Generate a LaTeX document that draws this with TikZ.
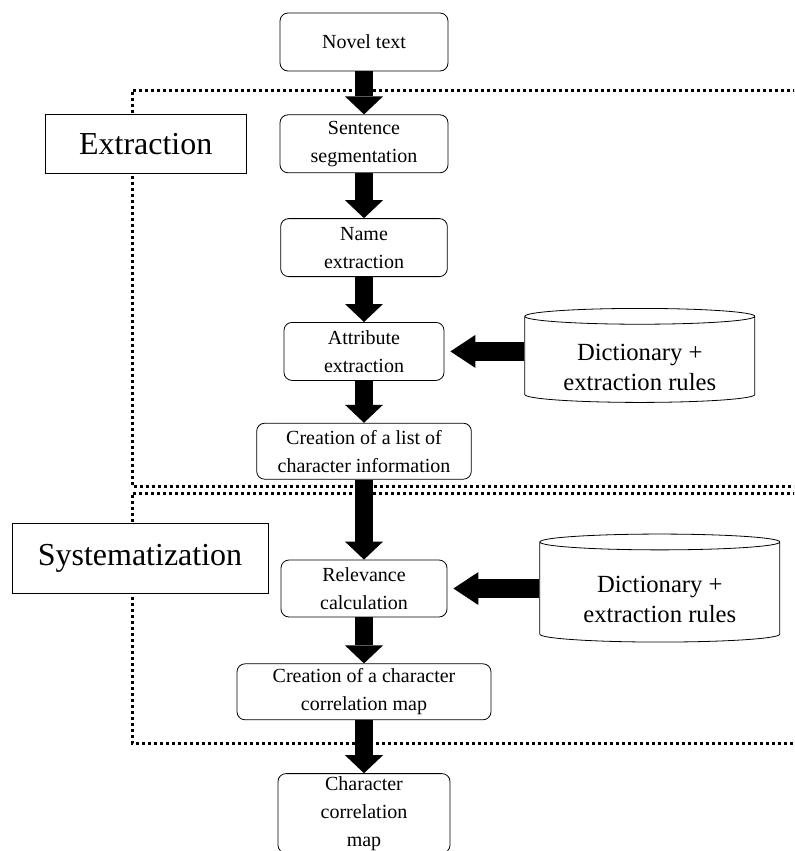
\documentclass[tikz,border=0pt]{standalone}
\usepackage{fontspec}
\setmainfont{Liberation Serif}
\usetikzlibrary{
    arrows.meta,
    positioning,
    shapes.geometric
}

\begin{document}
\begin{tikzpicture}[
    x=0.75pt, y=-0.75pt,
    stepbox/.style={rectangle, rounded corners=6pt, draw, fill=white,
                    line width=0.6pt, minimum height=43.5pt, inner sep=2pt,
                    align=center, font=\fontsize{15}{21}\selectfont},
    phase/.style={rectangle, draw, fill=white, line width=0.6pt,
                  inner sep=2pt, font=\fontsize{24}{28}\selectfont},
    db/.style={cylinder, shape border rotate=90, aspect=0.1, draw,
               fill=white, line width=0.6pt, inner sep=2pt, align=center,
               font=\fontsize{18.5}{22.5}\selectfont},
    flow/.style={line width=13.5pt,
                 -{Triangle[length=13.5pt, width=28.5pt, line width=0pt]}},
    feed/.style={line width=14.25pt, shorten >=4.5pt,
                 -{Triangle[length=18.75pt, width=24.75pt, line width=0pt]}},
    region/.style={line width=2.25pt, dash pattern=on 2.25pt off 2.25pt}
]
\clip (0,0) rectangle (794,851);

% =========================
% 1) DOTTED PHASE REGIONS
% =========================
\draw[region] (820,90) -| (132,486) -- (820,486);
\draw[region] (820,493) -| (132,743) -- (820,743);

% =========================
% 2) MAIN CHAIN
% =========================
\node[stepbox, minimum width=126pt] (novel) at (364,42) {Novel text};
\node[stepbox, minimum width=126pt, below=32.25pt of novel] (seg)
    {Sentence\\segmentation};
\node[stepbox, minimum width=125pt, below=33.75pt of seg] (name)
    {Name\\extraction};
\node[stepbox, minimum width=120pt, below=33.75pt of name] (attr)
    {Attribute\\extraction};
\node[stepbox, minimum width=161pt, minimum height=42pt,
      below=31.5pt of attr] (list)
    {Creation of a list of\\character information};
\node[stepbox, minimum width=124.5pt, minimum height=42.75pt,
      below=60pt of list] (rel)
    {Relevance\\calculation};
\node[stepbox, minimum width=190.5pt, minimum height=42pt,
      below=34.5pt of rel] (cmap)
    {Creation of a character\\correlation map};
\node[stepbox, minimum width=129pt, below=39.75pt of cmap] (chmap)
    {Character\\correlation\\map};

\draw[flow] (novel) -- (seg);
\draw[flow] (seg) -- (name);
\draw[flow] (name) -- (attr);
\draw[flow] (attr) -- (list);
\draw[flow] (list) -- (rel);
\draw[flow] (rel) -- (cmap);
\draw[flow] (cmap) -- (chmap);

% =========================
% 3) PHASE LABELS
% =========================
\node[phase, minimum width=150.75pt, minimum height=44.25pt,
      left=24.75pt of seg] (ext) {Extraction};
\node[phase, minimum width=192pt, minimum height=52.5pt] (sys)
    at (140,558) {Systematization};

% =========================
% 4) DICTIONARIES
% =========================
\node[db, minimum width=172.5pt, minimum height=70.5pt,
      right=60pt of attr, yshift=-6.75pt] (dicta)
    {\rule{0pt}{23pt}Dictionary +\\extraction rules};
\node[db, minimum width=180pt, minimum height=81pt,
      right=69pt of rel, yshift=-3.4pt] (dictb)
    {\rule{0pt}{22.4pt}Dictionary +\\extraction rules};

\draw[feed] (dicta.west |- attr.east) -- (attr.east);
\draw[feed] (dictb.west |- rel.east) -- (rel.east);

\end{tikzpicture}
\end{document}
